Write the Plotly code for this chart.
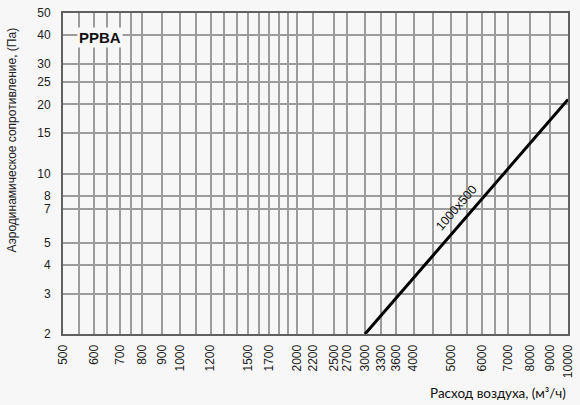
import math
import plotly.graph_objects as go

# Data
flow = [3000, 10000]          # м³/ч
pressure = [2, 21]            # Па
series_name = "1000x500"
label_pos = (5600, 6.8)       # where the series label sits (data units)

x_tick_vals = [500, 600, 700, 800, 900, 1000, 1200, 1500, 1700, 2000, 2200, 2500,
               2700, 3000, 3300, 3600, 4000, 5000, 6000, 7000, 8000, 9000, 10000]
x_minor_vals = [550, 650, 750, 1100, 1300, 1400, 1600, 1800, 1900, 4500, 5500, 6500]
y_tick_vals = [2, 3, 4, 5, 7, 8, 10, 15, 20, 25, 30, 40, 50]

bg = "#f7f7f7"
grid = "#9c9c9c"
border = "#606060"
font_family = "Liberation Sans, Arial, sans-serif"

fig = go.Figure()
fig.add_trace(go.Scatter(x=flow, y=pressure, mode="lines",
                         line=dict(color="black", width=3), showlegend=False,
                         hoverinfo="skip"))

# log axes: annotation coordinates are given in log10 units
fig.add_annotation(x=math.log10(label_pos[0]), y=math.log10(label_pos[1]), xref="x", yref="y",
                   text=series_name, textangle=-49, showarrow=False, xshift=-14, yshift=4,
                   font=dict(family=font_family, size=12.5, color="#111"))

fig.add_annotation(x=0.028, y=0.925, xref="paper", yref="paper", text="<b>PPBA</b>",
                   xanchor="left", yanchor="middle", showarrow=False, bgcolor=bg,
                   font=dict(family=font_family, size=15, color="#111"))

fig.add_annotation(x=1.0, y=-0.184, xref="paper", yref="paper", text="Расход воздуха, (м³/ч)",
                   xanchor="right", yanchor="middle", showarrow=False,
                   font=dict(family="Lato, Open Sans, sans-serif", size=13.5, color="#111"))

fig.add_annotation(x=-0.1, y=0.604, xref="paper", yref="paper",
                   text="Аэродинамическое сопротивление, (Па)", textangle=-90,
                   xanchor="center", yanchor="middle", showarrow=False,
                   font=dict(family=font_family, size=12, color="#222"))

fig.update_xaxes(type="log", range=[math.log10(500), 4],
                 tickvals=x_tick_vals, ticktext=[str(v) for v in x_tick_vals],
                 tickangle=-90, tickfont=dict(family=font_family, size=12, color="#222"),
                 showgrid=True, gridcolor=grid, gridwidth=1.6,
                 minor=dict(tickvals=x_minor_vals, showgrid=True, gridcolor=grid, gridwidth=1.6),
                 showline=True, linecolor=border, linewidth=2, mirror=True,
                 ticks="outside", ticklen=4, tickcolor=bg, zeroline=False)

fig.update_yaxes(type="log", range=[math.log10(2), math.log10(50)],
                 tickvals=y_tick_vals, ticktext=[str(v) for v in y_tick_vals],
                 tickfont=dict(family=font_family, size=12, color="#222"),
                 showgrid=True, gridcolor=grid, gridwidth=1.6,
                 showline=True, linecolor=border, linewidth=2, mirror=True,
                 ticks="outside", ticklen=8, tickcolor=bg, zeroline=False)

fig.update_layout(width=580, height=405, paper_bgcolor=bg, plot_bgcolor=bg,
                  margin=dict(l=63, r=12, t=13, b=71, autoexpand=False), showlegend=False)

fig.write_html("out.html", config={"displayModeBar": False},
               post_script="document.body.style.margin='0';document.body.style.background='%s';" % bg)
